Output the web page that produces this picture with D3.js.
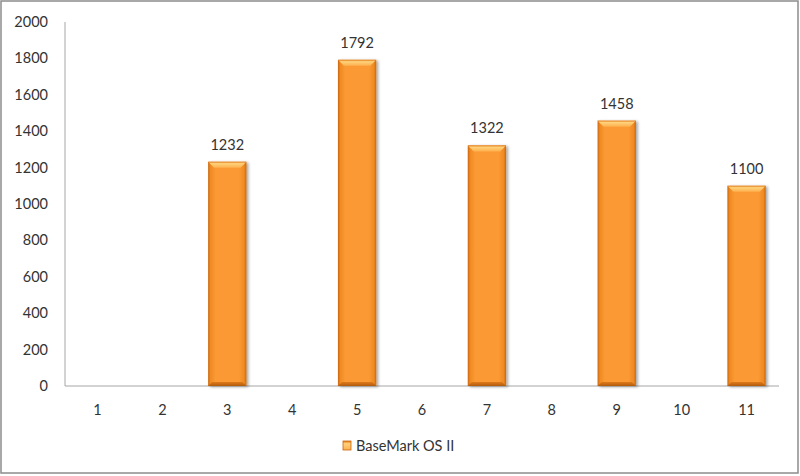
<!DOCTYPE html>
<html><head><meta charset="utf-8">
<script src="https://cdn.jsdelivr.net/npm/d3@7"></script>
<style>body{margin:0;background:#fff}svg{display:block}text{font-family:Lato,"Open Sans",sans-serif;fill:#333}</style>
</head><body><svg id="c" width="800" height="476"></svg>
<script>
const categories = ["1","2","3","4","5","6","7","8","9","10","11"];
const values = [null,null,1232,null,1792,null,1322,null,1458,null,1100];
const yTicks = [0,200,400,600,800,1000,1200,1400,1600,1800,2000];
const seriesName = "BaseMark OS II";

(function(){
const svg = d3.select("#c");
const W=800,H=476;
svg.append("rect").attr("x",1).attr("y",1).attr("width",W-3).attr("height",H-4)
  .attr("fill","#fff").attr("stroke","#8c8c8c").attr("stroke-width",1.5);

const pl=65,pr=779,pt=22,pb=386;
const x=d3.scaleBand().domain(categories).range([pl,pr]).paddingInner(0.41).paddingOuter(0.205);
const y=d3.scaleLinear().domain([0,2000]).range([pb,pt]);

const defs=svg.append("defs");
const gh=defs.append("linearGradient").attr("id","gh").attr("x1",0).attr("x2",1).attr("y1",0).attr("y2",0);
[[0,"#c9650e"],[0.06,"#f08a22"],[0.2,"#fb9a35"],[0.8,"#fb9a35"],[0.94,"#f08a22"],[1,"#c9650e"]].forEach(s=>gh.append("stop").attr("offset",s[0]).attr("stop-color",s[1]));
const gt=defs.append("linearGradient").attr("id","gt").attr("x1",0).attr("x2",0).attr("y1",0).attr("y2",1);
[[0,"#e07a18"],[0.3,"#ffd27a"],[1,"#fdb04e"]].forEach(s=>gt.append("stop").attr("offset",s[0]).attr("stop-color",s[1]));
const gb=defs.append("linearGradient").attr("id","gb").attr("x1",0).attr("x2",0).attr("y1",0).attr("y2",1);
[[0,"#e07a18"],[1,"#b05a10"]].forEach(s=>gb.append("stop").attr("offset",s[0]).attr("stop-color",s[1]));
const sh=defs.append("filter").attr("id","sh").attr("x","-20%").attr("y","-5%").attr("width","150%").attr("height","115%");
sh.append("feGaussianBlur").attr("in","SourceAlpha").attr("stdDeviation",1.5);
sh.append("feOffset").attr("dx",2).attr("dy",1).attr("result","b");
sh.append("feComponentTransfer").append("feFuncA").attr("type","linear").attr("slope",0.35);
const m=sh.append("feMerge");m.append("feMergeNode");m.append("feMergeNode").attr("in","SourceGraphic");

svg.append("line").attr("x1",pl).attr("x2",pl).attr("y1",pt).attr("y2",pb).attr("stroke","#a6a6a6");
svg.append("line").attr("x1",pl).attr("x2",pr).attr("y1",pb).attr("y2",pb).attr("stroke","#a6a6a6");

svg.selectAll(".yt").data(yTicks).enter().append("text")
  .attr("x",48).attr("y",d=>y(d)+5).attr("text-anchor","end").attr("font-size",14.5).text(d=>d);
svg.selectAll(".xt").data(categories).enter().append("text")
  .attr("x",d=>x(d)+x.bandwidth()/2).attr("y",pb+29).attr("text-anchor","middle").attr("font-size",14.5).text(d=>d);

const data=categories.map((c,i)=>({c,v:values[i]})).filter(d=>d.v!=null);
const g=svg.selectAll(".bar").data(data).enter().append("g").attr("filter","url(#sh)");
g.append("rect").attr("x",d=>x(d.c)).attr("y",d=>y(d.v)).attr("width",x.bandwidth()).attr("height",d=>pb-y(d.v)).attr("fill","url(#gh)");
g.append("path").attr("d",d=>{const x0=x(d.c),x1=x0+x.bandwidth(),t=y(d.v),k=6;return `M${x0},${t}L${x1},${t}L${x1-k},${t+k}L${x0+k},${t+k}Z`;}).attr("fill","url(#gt)");
g.append("path").attr("d",d=>{const x0=x(d.c),x1=x0+x.bandwidth(),b=pb,k=4;return `M${x0},${b}L${x1},${b}L${x1-k},${b-k}L${x0+k},${b-k}Z`;}).attr("fill","url(#gb)");
svg.selectAll(".lbl").data(data).enter().append("text")
  .attr("x",d=>x(d.c)+x.bandwidth()/2).attr("y",d=>y(d.v)-12).attr("text-anchor","middle").attr("font-size",14.5).text(d=>d.v);

svg.append("rect").attr("x",343).attr("y",441).attr("width",8).attr("height",9).attr("fill","url(#gt)").attr("stroke","#c9650e").attr("stroke-width",0.8);
svg.append("text").attr("x",356).attr("y",451).attr("font-size",14.5).text(seriesName);
})();
</script></body></html>
